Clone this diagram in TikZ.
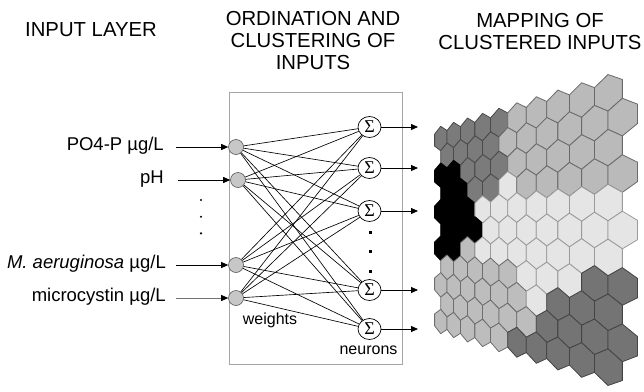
\documentclass[tikz,border=0pt]{standalone}
\usepackage{fontspec}
\setmainfont{Liberation Sans}
\newfontfamily\sigfont{Liberation Serif}
\usetikzlibrary{arrows.meta,shapes.geometric}
\definecolor{cD}{HTML}{7B7B7B}
\definecolor{cG}{HTML}{BABABA}
\definecolor{cK}{HTML}{000000}
\definecolor{cL}{HTML}{E5E5E5}
\definecolor{cB}{HTML}{BDBDBD}
\definecolor{cR}{HTML}{747474}
\definecolor{eD}{HTML}{4A4A4A}
\definecolor{eG}{HTML}{6A6A6A}
\definecolor{eK}{HTML}{000000}
\definecolor{eL}{HTML}{9A9A9A}
\definecolor{eB}{HTML}{6E6E6E}
\definecolor{eR}{HTML}{444444}
\begin{document}
\begin{tikzpicture}[x=1pt,y=-1pt,
  declare function={hx(\q)=440.7+12.4*\q/(1-0.037*\q); hy(\q,\w)=230+(\w-5)*18.3/(1-0.037*\q);},
  lab/.style={font=\fontsize{18.5}{22}\selectfont, anchor=mid east, inner sep=0},
  head/.style={font=\fontsize{20.3}{22.3}\selectfont, align=center, inner sep=0},
  small/.style={font=\fontsize{16}{18}\selectfont, inner sep=0},
  innode/.style={circle, draw=black!65, fill=black!22, minimum size=15pt, inner sep=0, line width=0.6pt},
  sig/.style={ellipse, draw, fill=white, minimum width=23pt, minimum height=21pt, inner sep=0, line width=0.7pt, font=\sigfont\fontsize{18}{18}\selectfont},
  arr/.style={-{Triangle[length=7pt,width=6pt]}, line width=0.8pt},
  conn/.style={line width=0.65pt},
  vdot/.style={circle, fill, minimum size=2.4pt, inner sep=0},
  sdot/.style={rectangle, fill, minimum size=3pt, inner sep=0},
  hexcell/.style={line width=0.8pt, line join=round}
]
\useasboundingbox (0,0) rectangle (644,391);

% headings
\node[head] (h1) at (91,30) {INPUT LAYER};
\node[head] (h2) at (313,40.5) {ORDINATION AND\\CLUSTERING OF\\INPUTS};
\node[head] (h3) at (540,31.5) {MAPPING OF\\CLUSTERED INPUTS};

% box
\node[draw=black!35, line width=0.8pt, minimum width=173pt, minimum height=272pt, inner sep=0] (box) at (315.5,228.5) {};

% input nodes
\node[innode] (i1) at (236,147) {};
\node[innode] (i2) at (238,180) {};
\node[innode] (i3) at (236,265) {};
\node[innode] (i4) at (236,298) {};

% sigma nodes
\node[sig] (s1) at (369.5,127) {Σ};
\node[sig] (s2) at (369.5,168) {Σ};
\node[sig] (s3) at (369.5,211) {Σ};
\node[sig] (s4) at (369.5,290) {Σ};
\node[sig] (s5) at (369.5,329) {Σ};

% connections
\foreach \i in {1,...,4}
  \foreach \s in {1,...,5}
    \draw[conn] (i\i) -- (s\s);

% labels
\node[lab] (l1) at (164,148) {PO4-P µg/L};
\node[lab] (l2) at (164,181) {pH};
\node[lab] (l3) at (166,266) {\textit{M. aeruginosa} µg/L};
\node[lab] (l4) at (166,299) {microcystin µg/L};

\coordinate (a1) at (176,147);
\coordinate (a2) at (178,180);
\coordinate (a3) at (176,265);
\coordinate (a4) at (176,298);
\draw[arr] (a1) -- (i1);
\draw[arr] (a2) -- (i2);
\draw[arr] (a3) -- (i3);
\draw[-{Triangle[length=7pt,width=6pt,color=black]}, line width=0.8pt, draw=black!55] (a4) -- (i4);

% vertical dots on left
\node[vdot] (d1) at (201,200) {};
\node[vdot] (d2) at (201,216.7) {};
\node[vdot] (d3) at (201,233.3) {};

% dots between sigma nodes
\node[sdot] (e1) at (370,232) {};
\node[sdot] (e2) at (370,251) {};
\node[sdot] (e3) at (370,271) {};

% output arrows
\foreach \k/\yy in {1/127,2/168,3/211,4/290,5/329}{
  \coordinate (o\k) at (418,\yy);
  \draw[arr] (s\k) -- (o\k);
}

\node[small] (w) at (270,320) {weights};
\node[small] (n) at (368.5,350) {neurons};

% hexagonal map
\foreach \rw/\cols in {
  0/{D,D,D,D,D,G,G,G,G,G},
  1/{D,D,D,D,G,G,G,G,G,G},
  2/{K,K,D,D,D,G,G,G,G,G},
  3/{K,K,D,D,L,G,G,G,G,G},
  4/{K,K,K,L,L,L,L,L,L,L},
  5/{K,K,K,L,L,L,L,L,L,L},
  6/{K,K,B,L,L,L,L,L,L,L},
  7/{B,B,B,B,B,L,L,L,R,R},
  8/{B,B,B,B,B,B,L,R,R,R},
  9/{B,B,B,B,B,B,R,R,R,R},
  10/{B,B,B,B,B,R,R,R,R,R}}{
  \foreach \cl [count=\cc from 0] in \cols {
    \pgfmathsetmacro\uu{\cc+0.5*mod(\rw,2)}
    \filldraw[hexcell, fill=c\cl, draw=e\cl]
      ({hx(\uu)},{hy(\uu,\rw-2/3)}) --
      ({hx(\uu+0.5)},{hy(\uu+0.5,\rw-1/3)}) --
      ({hx(\uu+0.5)},{hy(\uu+0.5,\rw+1/3)}) --
      ({hx(\uu)},{hy(\uu,\rw+2/3)}) --
      ({hx(\uu-0.5)},{hy(\uu-0.5,\rw+1/3)}) --
      ({hx(\uu-0.5)},{hy(\uu-0.5,\rw-1/3)}) -- cycle;
  }
}
\end{tikzpicture}
\end{document}
